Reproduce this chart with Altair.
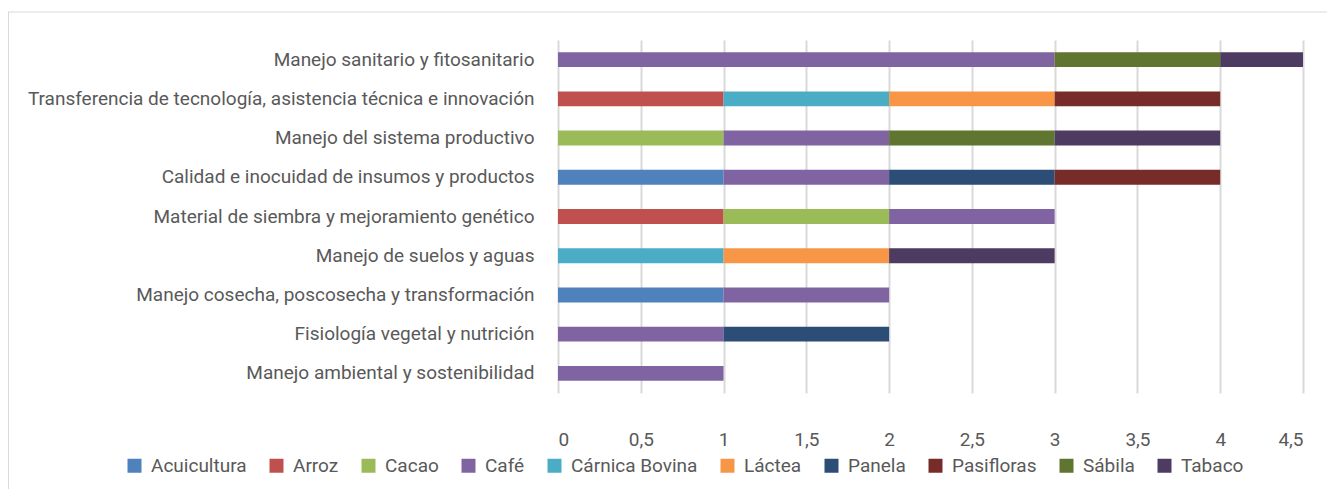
import altair as alt
import pandas as pd

categories = [
    "Manejo sanitario y fitosanitario",
    "Transferencia de tecnología, asistencia técnica e innovación",
    "Manejo del sistema productivo",
    "Calidad e inocuidad de insumos y productos",
    "Material de siembra y mejoramiento genético",
    "Manejo de suelos y aguas",
    "Manejo cosecha, poscosecha y transformación",
    "Fisiología vegetal y nutrición",
    "Manejo ambiental y sostenibilidad",
]

series_names = ["Acuicultura", "Arroz", "Cacao", "Café", "Cárnica Bovina",
                "Láctea", "Panela", "Pasifloras", "Sábila", "Tabaco"]

acuicultura = [0, 0, 0, 1, 0, 0, 1, 0, 0]
arroz = [0, 1, 0, 0, 1, 0, 0, 0, 0]
cacao = [0, 0, 1, 0, 1, 0, 0, 0, 0]
cafe = [3, 0, 1, 1, 1, 0, 1, 1, 1]
carnica_bovina = [0, 1, 0, 0, 0, 1, 0, 0, 0]
lactea = [0, 1, 0, 0, 0, 1, 0, 0, 0]
panela = [0, 0, 0, 1, 0, 0, 0, 1, 0]
pasifloras = [0, 1, 0, 1, 0, 0, 0, 0, 0]
sabila = [1, 0, 1, 0, 0, 0, 0, 0, 0]
tabaco = [0.5, 0, 1, 0, 0, 1, 0, 0, 0]

colors = ["#4F81BD", "#C0504D", "#9BBB59", "#8064A2", "#4BACC6",
          "#F79646", "#2C4D75", "#772C2A", "#5F7530", "#4D3B62"]

x_ticks = [0, 0.5, 1, 1.5, 2, 2.5, 3, 3.5, 4, 4.5]

series_values = [acuicultura, arroz, cacao, cafe, carnica_bovina,
                 lactea, panela, pasifloras, sabila, tabaco]

rows = []
for si, (name, vals) in enumerate(zip(series_names, series_values)):
    for ci, v in enumerate(vals):
        if v > 0:
            rows.append({"Categoria": categories[ci], "Serie": name,
                         "Valor": v, "orden": si})
df = pd.DataFrame(rows)

FONT = "Roboto"
TXT = "#595959"
GRID = "#D9D9D9"
FS = 19

bars = alt.Chart(df).mark_bar().encode(
    y=alt.Y("Categoria:N", sort=categories, title=None,
            scale=alt.Scale(paddingInner=0.62, paddingOuter=0.31),
            axis=alt.Axis(labelFontSize=FS, labelColor=TXT, labelPadding=24,
                          labelLimit=0, ticks=False, domain=False, grid=False)),
    x=alt.X("Valor:Q", stack="zero", title=None,
            scale=alt.Scale(domain=[0, 4.5], nice=False),
            axis=alt.Axis(values=x_ticks, labelFontSize=FS, labelColor=TXT,
                          labelPadding=37, ticks=False, domain=False,
                          grid=True, gridColor=GRID, gridWidth=2,
                          labelExpr="replace(format(datum.value, '~g'), '.', ',')")),
    color=alt.Color("Serie:N", sort=series_names,
                    scale=alt.Scale(domain=series_names, range=colors),
                    legend=alt.Legend(title=None, orient="none", direction="horizontal",
                                      legendX=-433, legendY=416, padding=0,
                                      labelFontSize=FS, labelColor=TXT,
                                      symbolType="square", symbolSize=196,
                                      symbolStrokeWidth=0, labelOffset=7,
                                      columnPadding=20)),
    order=alt.Order("orden:Q"),
)

border_top = alt.Chart().mark_rule(color=GRID, strokeWidth=1).encode(
    x=alt.value(-550), x2=alt.value(800), y=alt.value(-28))
border_left = alt.Chart().mark_rule(color=GRID, strokeWidth=1).encode(
    x=alt.value(-549.5), y=alt.value(-28), y2=alt.value(500))

chart = alt.layer(bars, border_top, border_left).properties(
    width=745, height=353,
    autosize=alt.AutoSizeParams(type="none"),
    padding={"left": 550, "top": 32, "right": 24, "bottom": 96},
).configure(font=FONT).configure_view(stroke=None)

chart.save("out.html", embed_options={"renderer": "svg", "actions": False})
